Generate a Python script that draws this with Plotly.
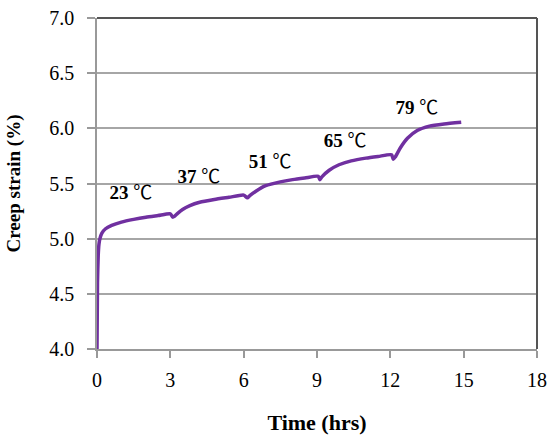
import plotly.graph_objects as go

# Creep strain record under stepwise temperature increase
time_hrs = [0, 0.02, 0.05, 0.08, 0.12, 0.2, 0.35, 0.6, 1.0, 1.5, 2.0, 2.5, 3.0, 3.1,
            3.15, 3.3, 3.5, 3.8, 4.2, 4.8, 5.4, 6.0, 6.15,
            6.25, 6.5, 6.9, 7.5, 8.0, 8.5, 9.05, 9.12,
            9.2, 9.5, 9.9, 10.4, 11.0, 11.5, 12.05, 12.12,
            12.2, 12.4, 12.7, 13.1, 13.6, 14.2, 14.9]
strain_pct = [4.0, 4.6, 4.85, 4.95, 5.0, 5.05, 5.09, 5.12, 5.15, 5.175, 5.195, 5.21, 5.225, 5.195,
              5.2, 5.23, 5.265, 5.30, 5.33, 5.355, 5.375, 5.395, 5.37,
              5.39, 5.43, 5.48, 5.515, 5.535, 5.55, 5.565, 5.535,
              5.56, 5.62, 5.67, 5.705, 5.73, 5.745, 5.76, 5.72,
              5.74, 5.82, 5.91, 5.98, 6.02, 6.04, 6.055]

temps_c = [23, 37, 51, 65, 79]
label_x = [1.39, 4.17, 7.08, 10.15, 13.09]
label_y = [5.40, 5.55, 5.68, 5.87, 6.17]

x_ticks = [0, 3, 6, 9, 12, 15, 18]
y_ticks = [4.0, 4.5, 5.0, 5.5, 6.0, 6.5, 7.0]

serif = "Liberation Serif, Times New Roman, serif"
serif_cjk = "Liberation Serif, Noto Sans CJK SC, serif"

fig = go.Figure()
fig.add_trace(go.Scatter(
    x=time_hrs, y=strain_pct, mode="lines",
    line=dict(color="#7030A0", width=3.5, shape="spline", smoothing=0.6),
    hoverinfo="skip", showlegend=False,
))
fig.add_trace(go.Scatter(
    x=label_x, y=label_y, mode="text", text=[str(t) for t in temps_c],
    texttemplate="<b>%{text}</b> ℃",
    textfont=dict(family=serif_cjk, size=19, color="black"),
    textposition="middle center", showlegend=False, hoverinfo="skip",
))

fig.update_layout(
    width=547, height=435,
    margin=dict(l=97, r=10, t=18, b=86, autoexpand=False),
    paper_bgcolor="white", plot_bgcolor="white",
    font=dict(family=serif, color="black"),
    xaxis=dict(
        range=[0, 18], tickvals=x_ticks, ticktext=[str(v) for v in x_ticks],
        showgrid=False, zeroline=False, automargin=False,
        showline=True, linecolor="#999999", linewidth=1.5,
        ticks="outside", ticklen=7, tickcolor="#999999", tickwidth=1.5,
        ticklabelstandoff=5,
        tickfont=dict(family=serif, size=20, color="black"),
        title=dict(text="<b>Time (hrs)</b>", font=dict(family=serif, size=22), standoff=26),
    ),
    yaxis=dict(
        range=[4.0, 7.0], tickvals=y_ticks, ticktext=[f"{v:.1f}" for v in y_ticks],
        showgrid=True, gridcolor="#a6a6a6", gridwidth=1.5, zeroline=False, automargin=False,
        showline=True, linecolor="#999999", linewidth=1.5,
        ticks="outside", ticklen=8, tickcolor="#999999", tickwidth=1.5,
        ticklabelstandoff=9,
        tickfont=dict(family=serif, size=20, color="black"),
        title=dict(text="<b>Creep strain (%)</b>", font=dict(family=serif, size=19), standoff=24),
    ),
)

# Dark frame on the top and right sides of the plot area
fig.add_shape(type="line", xref="x domain", yref="y domain", x0=0, x1=1, y0=1, y1=1,
              line=dict(color="#555555", width=2))
fig.add_shape(type="line", xref="x domain", yref="y domain", x0=1, x1=1, y0=0, y1=1,
              line=dict(color="#555555", width=2))

fig.write_html("out.html")
